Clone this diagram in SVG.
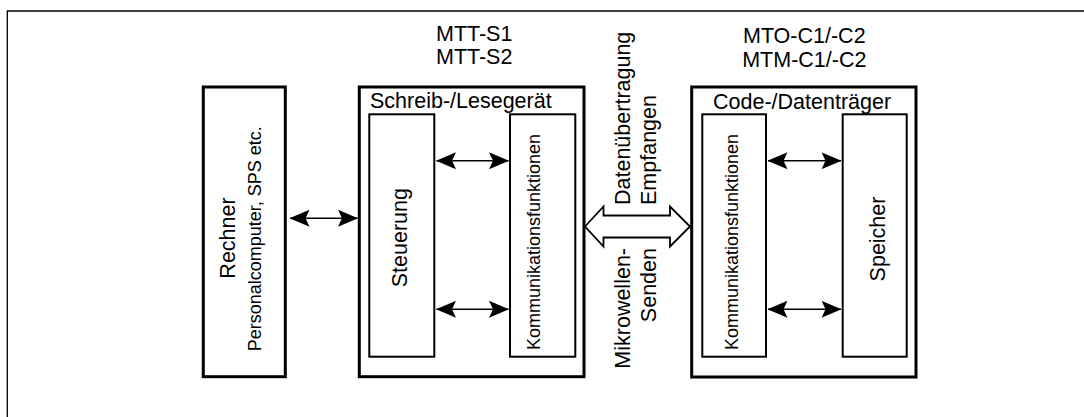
<svg xmlns="http://www.w3.org/2000/svg" width="1084" height="417" viewBox="0 0 1084 417">
<style>
text{font-family:"Liberation Sans",Arial,sans-serif;fill:#000}
.t{font-size:21.5px}
.s{font-size:18px}
.outer{fill:#fff;stroke:#000;stroke-width:3}
.inner{fill:#fff;stroke:#000;stroke-width:2}
.ln{fill:none;stroke:#000;stroke-width:1.5}
</style>
<defs>
<marker id="ah" viewBox="0 0 20 18" refX="19.5" refY="9" markerWidth="20" markerHeight="18" markerUnits="userSpaceOnUse" orient="auto-start-reverse">
<path d="M20,9 L0,0.5 L4,9 L0,17.5 Z" fill="#000"/>
</marker>
</defs>
<rect width="1084" height="417" fill="#fff"/>
<path d="M7.3,417 V11 H1084" fill="none" stroke="#000" stroke-width="1.3"/>
<g id="rechner">
<rect class="outer" x="203.3" y="87" width="82" height="289.7"/>
<text class="t" text-anchor="middle" transform="translate(235,238) rotate(-90)">Rechner</text>
<text class="s" text-anchor="middle" transform="translate(261,238.7) rotate(-90)">Personalcomputer, SPS etc.</text>
</g>
<g id="lesegeraet">
<rect class="outer" x="359.3" y="87" width="224.7" height="289.7"/>
<text class="t" x="370" y="108">Schreib-/Lesegerät</text>
<text class="t" x="474.2" y="40.7" text-anchor="middle">MTT-S1</text>
<text class="t" x="474.2" y="64" text-anchor="middle">MTT-S2</text>
</g>
<g id="steuerung">
<rect class="inner" x="369.3" y="114.3" width="65" height="242.4"/>
<text class="t" text-anchor="middle" transform="translate(407,237.7) rotate(-90)">Steuerung</text>
</g>
<g id="komm1">
<rect class="inner" x="510" y="114.3" width="65.3" height="242.4"/>
<text class="s" text-anchor="middle" transform="translate(540,242) rotate(-90)">Kommunikationsfunktionen</text>
</g>
<g id="datentraeger">
<rect class="outer" x="691.7" y="87" width="224.3" height="290"/>
<text class="t" x="713" y="109">Code-/Datenträger</text>
<text class="t" x="804.3" y="42.7" text-anchor="middle">MTO-C1/-C2</text>
<text class="t" x="804.3" y="66.7" text-anchor="middle">MTM-C1/-C2</text>
</g>
<g id="komm2">
<rect class="inner" x="702.3" y="114.3" width="63.7" height="242.4"/>
<text class="s" text-anchor="middle" transform="translate(738,242) rotate(-90)">Kommunikationsfunktionen</text>
</g>
<g id="speicher">
<rect class="inner" x="842.7" y="114.3" width="64" height="242.4"/>
<text class="t" text-anchor="middle" transform="translate(884.5,239) rotate(-90)">Speicher</text>
</g>
<g id="funk">
<text class="t" transform="translate(630,205) rotate(-90)">Datenübertragung</text>
<text class="t" transform="translate(656,205) rotate(-90)">Empfangen</text>
<text class="t" text-anchor="end" transform="translate(630,248) rotate(-90)">Mikrowellen-</text>
<text class="t" text-anchor="end" transform="translate(656,248) rotate(-90)">Senden</text>
</g>
<g id="connectors">
<line class="ln" x1="290" y1="218.3" x2="357.5" y2="218.3" marker-start="url(#ah)" marker-end="url(#ah)"/>
<line class="ln" x1="436.5" y1="160.7" x2="508.5" y2="160.7" marker-start="url(#ah)" marker-end="url(#ah)"/>
<line class="ln" x1="436.5" y1="309.3" x2="508.5" y2="309.3" marker-start="url(#ah)" marker-end="url(#ah)"/>
<line class="ln" x1="768" y1="160.7" x2="841" y2="160.7" marker-start="url(#ah)" marker-end="url(#ah)"/>
<line class="ln" x1="768" y1="309.3" x2="841" y2="309.3" marker-start="url(#ah)" marker-end="url(#ah)"/>
<polygon points="585,226.5 603.5,206.5 603.5,215.5 670,215.5 670,206.5 690,226.5 670,246.5 670,237.5 603.5,237.5 603.5,246.5" fill="#fff" stroke="#000" stroke-width="1.8" stroke-linejoin="miter"/>
</g>
</svg>
